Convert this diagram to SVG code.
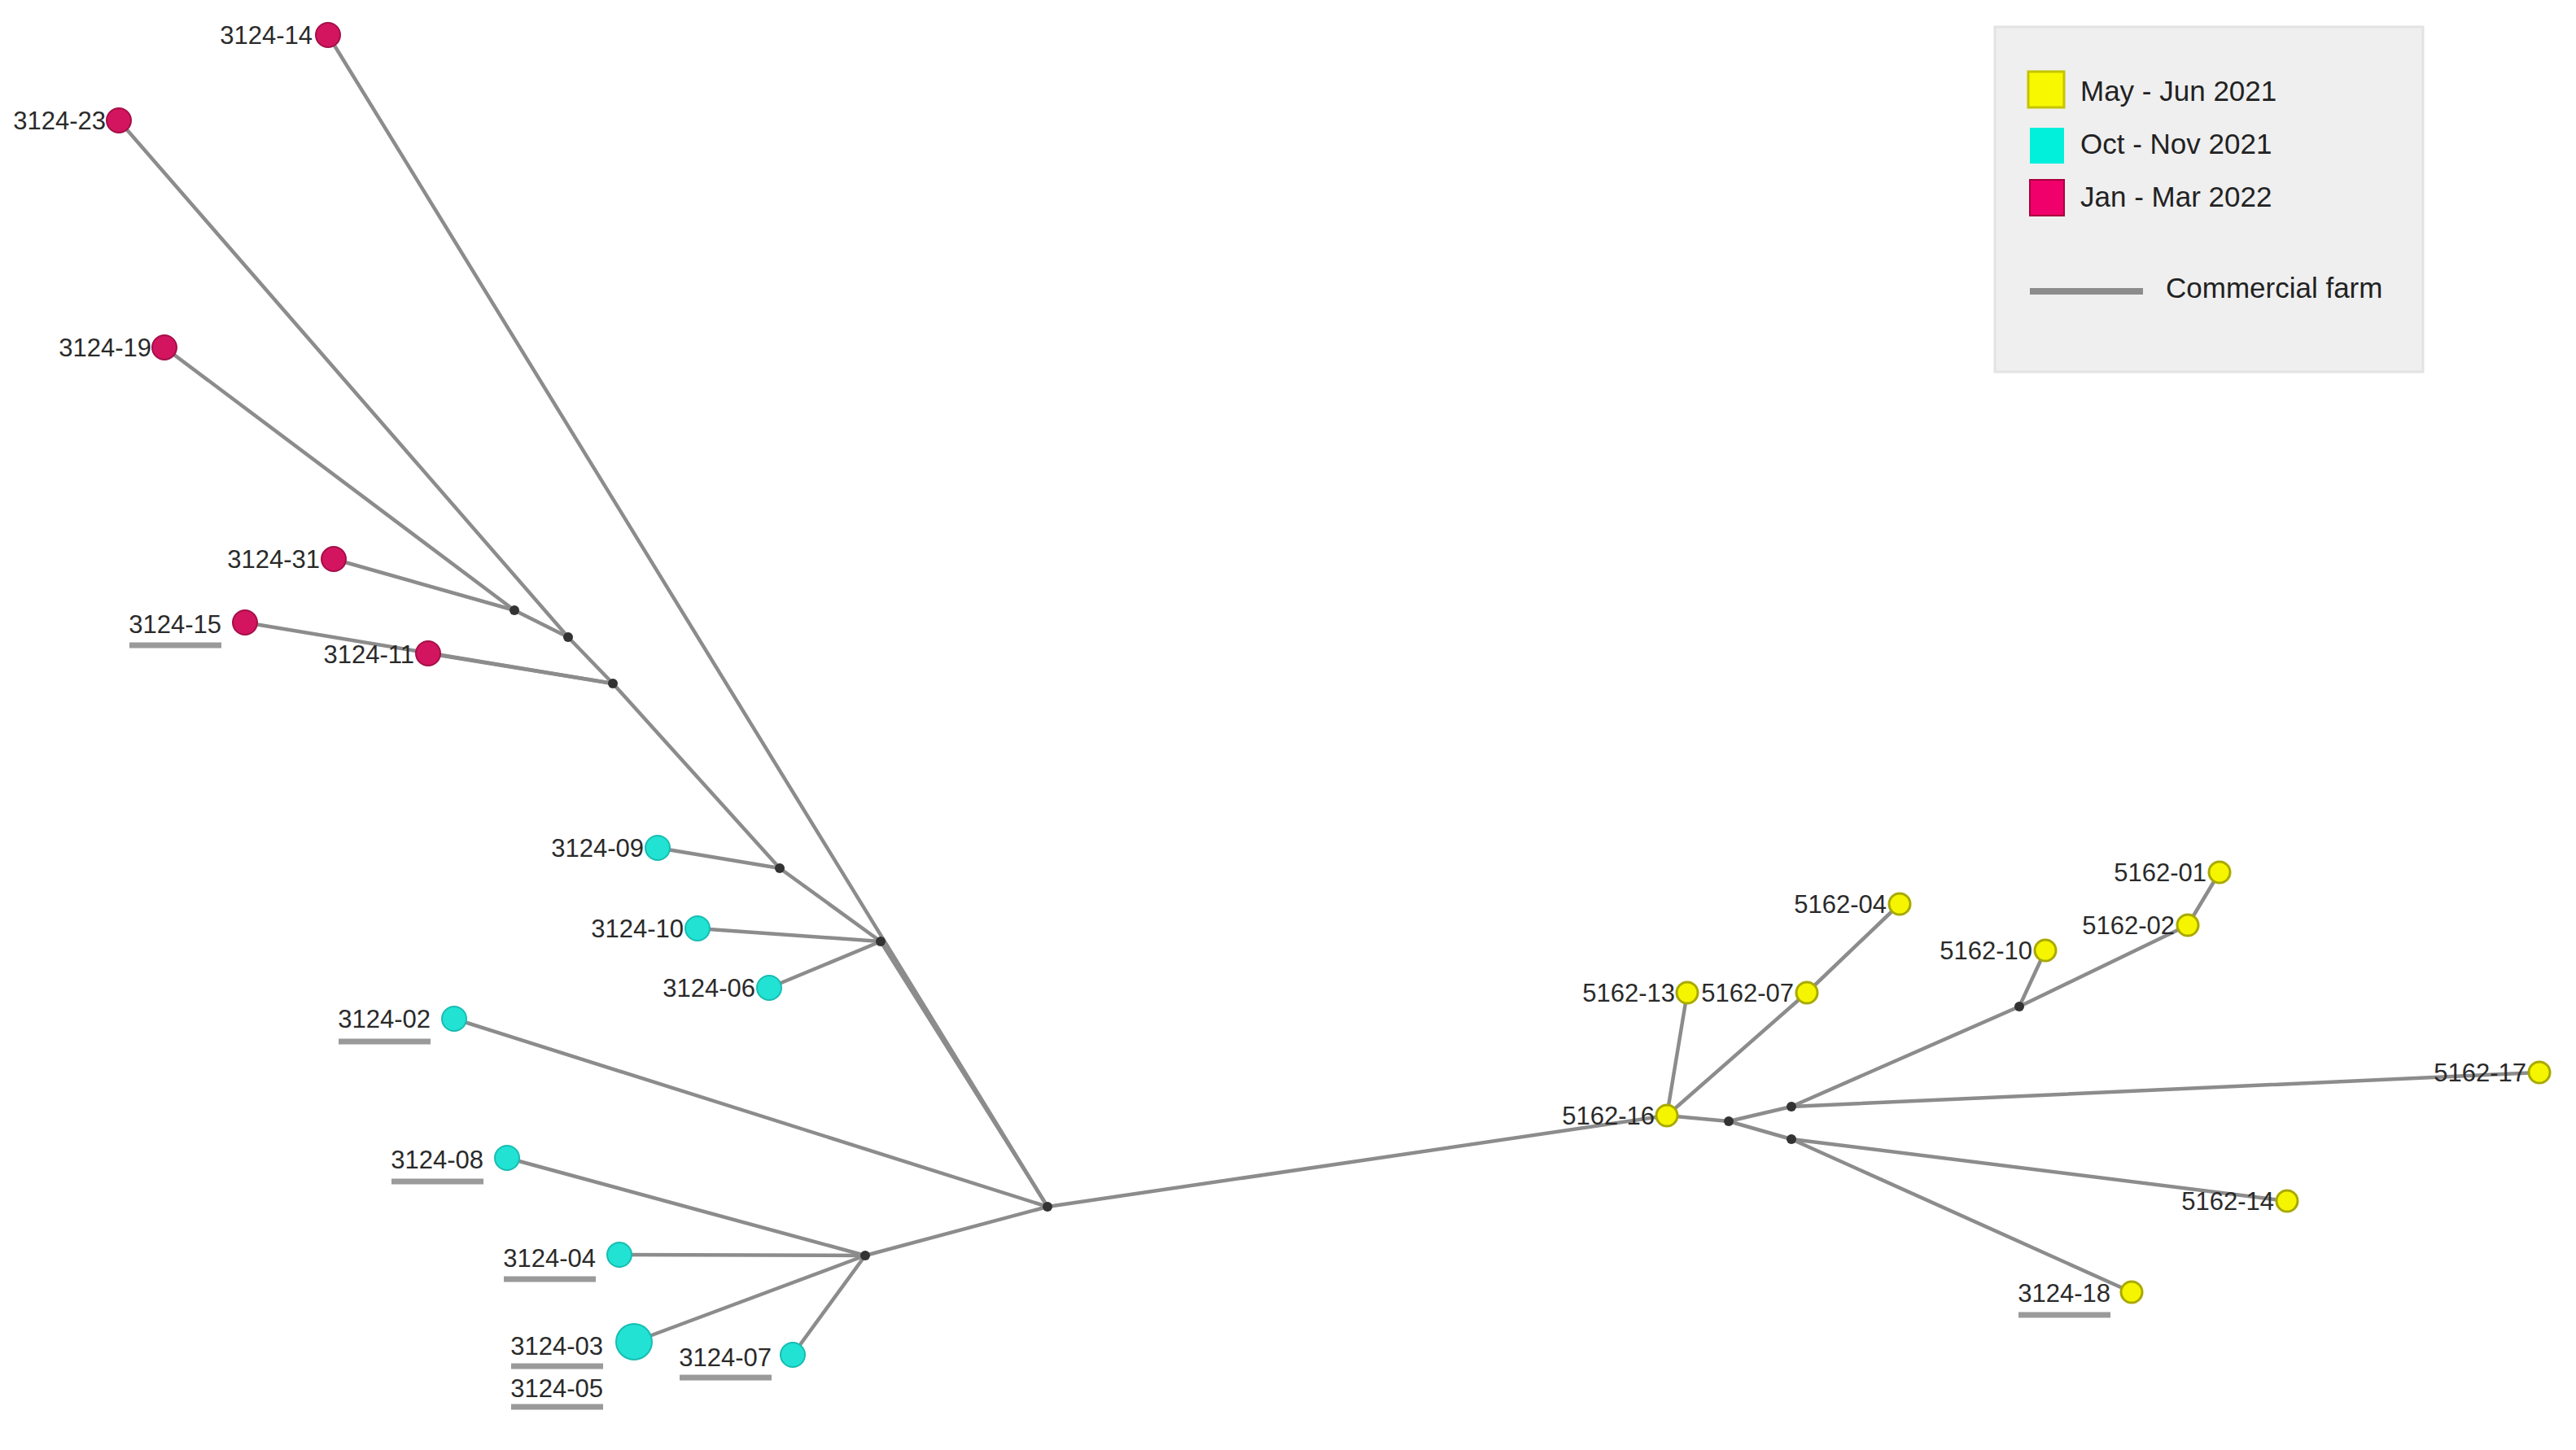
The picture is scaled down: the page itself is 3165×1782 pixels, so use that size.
<svg xmlns="http://www.w3.org/2000/svg" width="3165" height="1782" viewBox="0 0 3165 1782">
<style>
.e{stroke:#8c8c8c;stroke-width:4.5;fill:none;stroke-linecap:round}
.j{fill:#333}
.r{fill:#d3155f;stroke:#a50f48;stroke-width:2}
.c{fill:#22e2d3;stroke:#17bdb1;stroke-width:2}
.y{fill:#f5f500;stroke:#a9a900;stroke-width:3}
.t{font-family:"Liberation Sans",Arial,sans-serif;font-size:31px;fill:#2a2a2a;text-anchor:end}
.u{stroke:#9a9a9a;stroke-width:7}
.lt{font-family:"Liberation Sans",Arial,sans-serif;font-size:35px;fill:#222}
</style>
<rect width="3165" height="1782" fill="#ffffff"/>
<g id="connectors">
<line class="e" x1="202" y1="427" x2="632" y2="750"/>
<line class="e" x1="410" y1="687" x2="632" y2="750"/>
<line class="e" x1="632" y1="750" x2="698" y2="783"/>
<line class="e" x1="146" y1="148" x2="698" y2="783"/>
<line class="e" x1="698" y1="783" x2="753" y2="840"/>
<line class="e" x1="301" y1="765" x2="753" y2="840"/>
<line class="e" x1="526" y1="803" x2="753" y2="840"/>
<line class="e" x1="753" y1="840" x2="958" y2="1067"/>
<line class="e" x1="808" y1="1042" x2="958" y2="1067"/>
<line class="e" x1="958" y1="1067" x2="1082" y2="1157"/>
<line class="e" x1="857" y1="1141" x2="1082" y2="1157"/>
<line class="e" x1="945" y1="1214" x2="1082" y2="1157"/>
<line class="e" x1="1082" y1="1157" x2="1287" y2="1483"/>
<line class="e" x1="403" y1="43" x2="1287" y2="1483"/>
<line class="e" x1="558" y1="1252" x2="1287" y2="1483"/>
<line class="e" x1="1063" y1="1543" x2="1287" y2="1483"/>
<line class="e" x1="623" y1="1423" x2="1063" y2="1543"/>
<line class="e" x1="761" y1="1542" x2="1063" y2="1543"/>
<line class="e" x1="779" y1="1649" x2="1063" y2="1543"/>
<line class="e" x1="974" y1="1665" x2="1063" y2="1543"/>
<line class="e" x1="1287" y1="1483" x2="2048" y2="1371"/>
<line class="e" x1="2048" y1="1371" x2="2073" y2="1220"/>
<line class="e" x1="2048" y1="1371" x2="2220" y2="1220"/>
<line class="e" x1="2220" y1="1220" x2="2334" y2="1111"/>
<line class="e" x1="2048" y1="1371" x2="2124" y2="1378"/>
<line class="e" x1="2124" y1="1378" x2="2201" y2="1360"/>
<line class="e" x1="2124" y1="1378" x2="2201" y2="1400"/>
<line class="e" x1="2201" y1="1360" x2="3120" y2="1318"/>
<line class="e" x1="2201" y1="1360" x2="2481" y2="1237"/>
<line class="e" x1="2481" y1="1237" x2="2513" y2="1168"/>
<line class="e" x1="2481" y1="1237" x2="2688" y2="1137"/>
<line class="e" x1="2688" y1="1137" x2="2727" y2="1072"/>
<line class="e" x1="2201" y1="1400" x2="2810" y2="1476"/>
<line class="e" x1="2201" y1="1400" x2="2619" y2="1588"/>
</g>
<g id="junctions">
<circle class="j" cx="632" cy="750" r="6"/>
<circle class="j" cx="698" cy="783" r="6"/>
<circle class="j" cx="753" cy="840" r="6"/>
<circle class="j" cx="958" cy="1067" r="6"/>
<circle class="j" cx="1082" cy="1157" r="6"/>
<circle class="j" cx="1287" cy="1483" r="6"/>
<circle class="j" cx="1063" cy="1543" r="6"/>
<circle class="j" cx="2124" cy="1378" r="6"/>
<circle class="j" cx="2201" cy="1360" r="6"/>
<circle class="j" cx="2201" cy="1400" r="6"/>
<circle class="j" cx="2481" cy="1237" r="6"/>
</g>
<g id="n3124-14"><circle class="r" cx="403" cy="43" r="15"/><text class="t" x="384" y="54">3124-14</text></g>
<g id="n3124-23"><circle class="r" cx="146" cy="148" r="15"/><text class="t" x="130" y="159">3124-23</text></g>
<g id="n3124-19"><circle class="r" cx="202" cy="427" r="15"/><text class="t" x="186" y="438">3124-19</text></g>
<g id="n3124-31"><circle class="r" cx="410" cy="687" r="15"/><text class="t" x="393" y="698">3124-31</text></g>
<g id="n3124-15"><circle class="r" cx="301" cy="765" r="15"/><text class="t" x="272" y="778">3124-15</text><line class="u" x1="159" y1="793" x2="272" y2="793"/></g>
<g id="n3124-11"><circle class="r" cx="526" cy="803" r="15"/><text class="t" x="509" y="815">3124-11</text></g>
<g id="n3124-09"><circle class="c" cx="808" cy="1042" r="15"/><text class="t" x="791" y="1053">3124-09</text></g>
<g id="n3124-10"><circle class="c" cx="857" cy="1141" r="15"/><text class="t" x="840" y="1152">3124-10</text></g>
<g id="n3124-06"><circle class="c" cx="945" cy="1214" r="15"/><text class="t" x="928" y="1225">3124-06</text></g>
<g id="n3124-02"><circle class="c" cx="558" cy="1252" r="15"/><text class="t" x="529" y="1263">3124-02</text><line class="u" x1="416" y1="1280" x2="529" y2="1280"/></g>
<g id="n3124-08"><circle class="c" cx="623" cy="1423" r="15"/><text class="t" x="594" y="1436">3124-08</text><line class="u" x1="481" y1="1452" x2="594" y2="1452"/></g>
<g id="n3124-04"><circle class="c" cx="761" cy="1542" r="15"/><text class="t" x="732" y="1557">3124-04</text><line class="u" x1="619" y1="1572" x2="732" y2="1572"/></g>
<g id="n3124-03"><circle class="c" cx="779" cy="1649" r="22"/><text class="t" x="741" y="1665">3124-03</text><line class="u" x1="628" y1="1679" x2="741" y2="1679"/><text class="t" x="741" y="1717">3124-05</text><line class="u" x1="628" y1="1729" x2="741" y2="1729"/></g>
<g id="n3124-07"><circle class="c" cx="974" cy="1665" r="15"/><text class="t" x="948" y="1679">3124-07</text><line class="u" x1="835" y1="1693" x2="948" y2="1693"/></g>
<g id="n5162-04"><circle class="y" cx="2334" cy="1111" r="13"/><text class="t" x="2318" y="1122">5162-04</text></g>
<g id="n5162-01"><circle class="y" cx="2727" cy="1072" r="13"/><text class="t" x="2711" y="1083">5162-01</text></g>
<g id="n5162-02"><circle class="y" cx="2688" cy="1137" r="13"/><text class="t" x="2672" y="1148">5162-02</text></g>
<g id="n5162-10"><circle class="y" cx="2513" cy="1168" r="13"/><text class="t" x="2497" y="1179">5162-10</text></g>
<g id="n5162-13"><circle class="y" cx="2073" cy="1220" r="13"/><text class="t" x="2058" y="1231">5162-13</text></g>
<g id="n5162-07"><circle class="y" cx="2220" cy="1220" r="13"/><text class="t" x="2204" y="1231">5162-07</text></g>
<g id="n5162-16"><circle class="y" cx="2048" cy="1371" r="13"/><text class="t" x="2033" y="1382">5162-16</text></g>
<g id="n5162-17"><circle class="y" cx="3120" cy="1318" r="13"/><text class="t" x="3104" y="1329">5162-17</text></g>
<g id="n5162-14"><circle class="y" cx="2810" cy="1476" r="13"/><text class="t" x="2794" y="1487">5162-14</text></g>
<g id="n3124-18"><circle class="y" cx="2619" cy="1588" r="13"/><text class="t" x="2593" y="1600">3124-18</text><line class="u" x1="2480" y1="1616" x2="2593" y2="1616"/></g>
<g id="legend">
<rect x="2451" y="33" width="526" height="424" fill="#efefef" stroke="#e3e3e3" stroke-width="3"/>
<rect x="2492" y="88" width="44" height="44" fill="#f8f800" stroke="#c4c400" stroke-width="3"/>
<rect x="2494" y="157" width="42" height="44" fill="#00f0dc"/>
<rect x="2494" y="221" width="42" height="44" fill="#f0006a" stroke="#a8003f" stroke-width="2"/>
<text class="lt" x="2556" y="124">May - Jun 2021</text>
<text class="lt" x="2556" y="189">Oct - Nov 2021</text>
<text class="lt" x="2556" y="254">Jan - Mar 2022</text>
<line x1="2494" y1="358" x2="2633" y2="358" stroke="#8c8c8c" stroke-width="8"/>
<text class="lt" x="2661" y="366">Commercial farm</text>
</g>
</svg>
